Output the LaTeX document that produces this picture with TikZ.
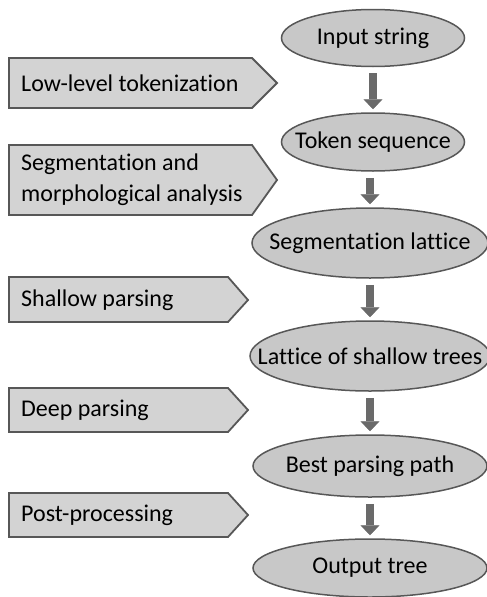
\documentclass[tikz,border=0pt]{standalone}
\usepackage{fontspec}
\setmainfont[Ligatures=NoCommon]{Carlito}
\usetikzlibrary{arrows.meta,shapes.geometric,calc}
\definecolor{boxfill}{HTML}{D3D3D3}
\definecolor{ellfill}{HTML}{C8C8C8}
\definecolor{edge}{HTML}{575757}
\definecolor{arrowc}{HTML}{6A6A6A}
\newcommand{\zw}[1]{\makebox[0pt]{#1}}
\tikzset{
  stage/.style={draw=edge, line width=1.8pt, fill=boxfill, line join=miter},
  lbl/.style={anchor=west, inner sep=0pt, font=\fontsize{24}{31}\selectfont, align=left},
  state/.style={ellipse, draw=edge, line width=1.5pt, fill=ellfill, inner sep=0pt,
    font=\fontsize{24}{29}\selectfont},
  flow/.style={draw=arrowc, line width=8pt,
    -{Triangle[width=19pt,length=10pt,line width=0.5pt]}, shorten <=6pt, shorten >=3pt},
}
\begin{document}
\begin{tikzpicture}[x=1pt,y=-1pt]
\useasboundingbox (0,0) rectangle (487,597);
% left stage arrows
\draw[stage] (9,58) -- (252,58) -- (277,83) -- (252,108) -- (9,108) -- cycle;
\node[lbl] (low) at (21,83) {Low-level tokenization};
\draw[stage] (9,145) -- (252,145) -- (277,180) -- (252,215) -- (9,215) -- cycle;
\node[lbl] (seg) at (21,180) {Segmentation and\\morphological analysis};
\draw[stage] (9,277) -- (228,277) -- (248,300) -- (228,322) -- (9,322) -- cycle;
\node[lbl] (shal) at (21,300) {Shallow parsing};
\draw[stage] (9,388) -- (228,388) -- (248,410) -- (228,432) -- (9,432) -- cycle;
\node[lbl] (deep) at (21,410) {Deep parsing};
\draw[stage] (9,493) -- (228,493) -- (248,515) -- (228,537) -- (9,537) -- cycle;
\node[lbl] (post) at (21,515) {Post-processing};
% right states
\node[state, minimum width=183pt, minimum height=57pt] (in) at (373,38) {\zw{Input string}};
\node[state, minimum width=183pt, minimum height=58pt] (tok) at (373,142) {\zw{Token sequence}};
\node[state, minimum width=236pt, minimum height=70pt] (lat) at (370,243) {\zw{Segmentation lattice}};
\node[state, minimum width=240pt, minimum height=70pt] (sh) at (370,356) {\zw{Lattice of shallow trees}};
\node[state, minimum width=234pt, minimum height=62pt] (best) at (370,466) {\zw{Best parsing path}};
\node[state, minimum width=234pt, minimum height=58pt] (out) at (370,568) {\zw{Output tree}};
% connectors
\draw[flow] (in.south) -- (tok.north);
\draw[flow] (tok.south -| lat.north) -- (lat.north);
\draw[flow] (lat.south) -- (sh.north);
\draw[flow] (sh.south) -- (best.north);
\draw[flow] (best.south) -- (out.north);
\end{tikzpicture}
\end{document}
